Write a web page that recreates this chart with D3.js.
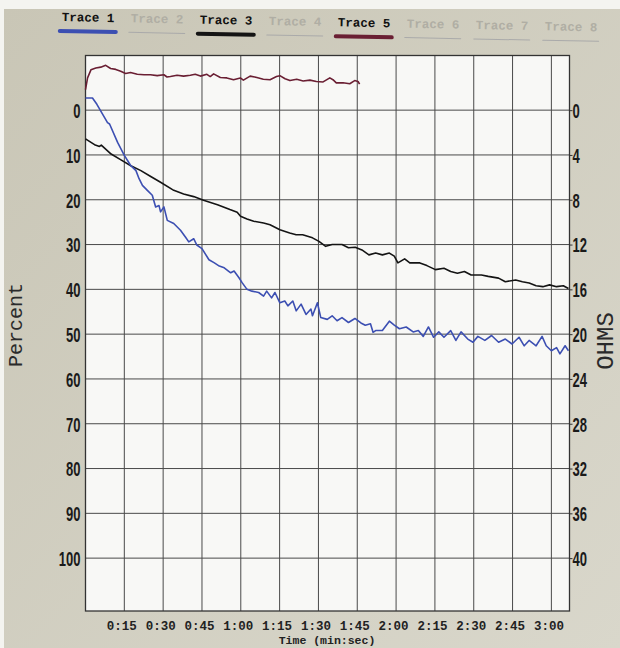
<!DOCTYPE html>
<html>
<head>
<meta charset="utf-8">
<script src="https://cdn.jsdelivr.net/npm/d3@7"></script>
<style>
  html, body { margin: 0; padding: 0; background: #ffffff; }
  svg { display: block; }
</style>
</head>
<body>
<svg id="chart" width="620" height="648"></svg>
<script>
// ---------------- data ----------------
const legendNames = ["Trace 1", "Trace 2", "Trace 3", "Trace 4", "Trace 5", "Trace 6", "Trace 7", "Trace 8"];
const legendActive = [true, false, true, false, true, false, false, false];
const legendColors = ["#3c4fb2", "#aaaaaa", "#141414", "#aaaaaa", "#6a1f33", "#aaaaaa", "#aaaaaa", "#aaaaaa"];

const timeTicks = [15, 30, 45, 60, 75, 90, 105, 120, 135, 150, 165, 180];
const percentTicks = [0, 10, 20, 30, 40, 50, 60, 70, 80, 90, 100];
const ohmTicks = [0, 4, 8, 12, 16, 20, 24, 28, 32, 36, 40];

// Trace 1 (blue) — percent vs seconds
const trace1Time = [0, 2.7, 4.4, 8.5, 9.3, 12.4, 15, 16.3, 17.5, 19.5, 20.7, 22, 23.9, 25.8, 27.1, 28.4, 29, 30.3, 31.6, 34.1, 36.7, 38.6, 39.9, 41.8, 43, 45, 47.7, 49.8, 51.7, 53.6, 56.1, 57.4, 59.3, 60.5, 62.4, 64.3, 66.9, 68.8, 70, 71.9, 73.2, 75.1, 77, 78.2, 80.1, 81.4, 83.3, 85.2, 87.1, 87.7, 89.6, 90.9, 93.4, 95.3, 97.2, 99.1, 101.6, 104.1, 106.4, 108.1, 110.1, 111.1, 112.1, 114.7, 117.4, 119.3, 121.3, 123.9, 126.6, 128.6, 130.5, 132.5, 134.5, 136.5, 138.5, 141.1, 143.1, 145.1, 147.7, 149.7, 151.6, 154.3, 156.9, 159.6, 162.2, 164.8, 167.5, 169.5, 171.4, 174.1, 176.4, 178, 180, 182, 183.3, 185.3, 186.6];
const trace1Pct = [-2.7, -2.7, -1.3, 2.8, 3.1, 7.2, 10.1, 11.3, 12.4, 13.5, 15.3, 16.8, 17.9, 19.0, 21.6, 21.3, 22.7, 21.6, 24.6, 25.3, 26.8, 28.3, 29.4, 28.7, 30.1, 30.9, 33.4, 34.1, 34.8, 35.2, 36.3, 35.9, 37.4, 38.5, 40.0, 40.4, 40.7, 41.5, 40.4, 41.9, 40.7, 43.0, 42.6, 43.7, 42.6, 44.8, 43.3, 45.6, 44.4, 45.9, 43.0, 46.3, 46.7, 45.9, 47.0, 46.3, 47.4, 46.5, 47.5, 48.0, 47.7, 49.6, 49.2, 49.2, 47.1, 48.0, 48.8, 48.4, 49.5, 49.2, 50.5, 48.4, 50.7, 49.5, 50.7, 49.2, 51.4, 49.5, 51.1, 51.8, 50.5, 51.4, 50.3, 51.8, 51.1, 52.2, 50.7, 52.6, 51.4, 52.6, 50.5, 52.6, 53.7, 53.0, 54.4, 52.6, 53.7];

// Trace 3 (black)
const trace3Time = [0, 3.5, 5.4, 6.1, 9.9, 13.7, 17.5, 21.4, 25.2, 29, 34.1, 37.9, 41.8, 45.6, 51, 55.8, 58.6, 59.9, 62.4, 65, 68.8, 71.3, 75.1, 78.9, 81.4, 83.9, 87.7, 90.2, 92.8, 95.3, 99.1, 101.6, 104.2, 106.8, 109.5, 112.1, 114.7, 117.4, 119.3, 120.7, 123.3, 125.3, 129.2, 131.9, 135.2, 138.5, 141.1, 143.7, 146.4, 149, 153, 155.6, 159.6, 162.2, 166.2, 168.8, 171.4, 174.1, 176.7, 179.3, 182, 184.6, 186.6];
const trace3Pct = [6.4, 7.7, 8.1, 7.8, 9.8, 11.1, 12.4, 13.5, 14.8, 16.1, 17.9, 18.7, 19.3, 20.1, 21.1, 22.2, 22.8, 23.7, 24.3, 24.8, 25.2, 25.6, 26.7, 27.4, 27.8, 27.8, 28.5, 29.3, 30.4, 30.0, 30.0, 30.7, 30.6, 31.2, 32.3, 31.9, 32.3, 31.9, 32.6, 34.1, 33.2, 34.1, 34.1, 34.7, 35.6, 35.3, 36.0, 36.4, 36.0, 36.8, 36.8, 37.1, 37.5, 38.3, 37.9, 38.3, 38.6, 39.2, 39.4, 39.0, 39.4, 39.2, 39.8];

// Trace 5 (maroon)
const trace5Time = [0, 0.8, 2.1, 4.0, 5.9, 7.8, 9.7, 11.7, 13.6, 15.5, 17.4, 20.0, 22.6, 25.1, 27.7, 30.3, 31.5, 32.8, 35.4, 37.9, 40.5, 42.4, 44.4, 46.9, 48.2, 49.5, 52.1, 54.6, 57.2, 59.8, 61.0, 63.6, 66.2, 68.7, 71.3, 73.8, 75.1, 77.1, 79.0, 81.6, 84.1, 86.7, 89.2, 91.8, 94.4, 95.6, 96.9, 99.5, 102.1, 104.0, 105.3, 105.9];
const trace5Pct = [-4.6, -7.2, -9.0, -9.4, -9.6, -10.0, -9.3, -9.1, -8.7, -8.2, -8.4, -8.0, -7.9, -7.9, -7.7, -7.9, -7.4, -7.5, -7.8, -7.6, -7.8, -8.0, -7.6, -8.0, -7.5, -8.1, -7.3, -7.2, -6.8, -7.2, -6.7, -7.6, -7.3, -6.9, -6.8, -7.5, -7.7, -7.0, -6.6, -6.9, -6.5, -6.7, -6.4, -6.3, -7.2, -6.8, -6.1, -6.1, -5.9, -6.6, -6.4, -5.8];

// ---------------- layout ----------------
const svg = d3.select("#chart");
const W = 620, H = 648;
const plot = { left: 85.5, right: 569.5, top: 55.5, bottom: 611 };

// paper background
svg.append("rect").attr("x", 0).attr("y", 0).attr("width", W).attr("height", H).attr("fill", "#f4f4f0");
const grad = svg.append("defs").append("linearGradient").attr("id", "paper")
  .attr("x1", "0").attr("y1", "0").attr("x2", "1").attr("y2", "1");
grad.append("stop").attr("offset", "0").attr("stop-color", "#c9c6b6");
grad.append("stop").attr("offset", "1").attr("stop-color", "#d9d7cb");
svg.append("rect").attr("x", 4).attr("y", 9).attr("width", W - 4).attr("height", H - 9).attr("fill", "url(#paper)");

// scales
const x = d3.scaleLinear().domain([0, 187]).range([plot.left, plot.right]);
const y = d3.scaleLinear().domain([-12.2, 111.8]).range([plot.top, plot.bottom]);
const yR = d3.scaleLinear().domain([-12.2 * 0.4, 111.8 * 0.4]).range([plot.top, plot.bottom]);

// plot area
svg.append("rect")
  .attr("x", plot.left).attr("y", plot.top)
  .attr("width", plot.right - plot.left).attr("height", plot.bottom - plot.top)
  .attr("fill", "#f8f8f6");

// grid
const grid = svg.append("g").attr("stroke", "#4a4a4a").attr("stroke-width", 1).attr("fill", "none");
grid.selectAll("line.v").data(timeTicks).join("line").attr("class", "v")
  .attr("x1", d => x(d)).attr("x2", d => x(d))
  .attr("y1", plot.top).attr("y2", plot.bottom);
grid.selectAll("line.h").data(percentTicks).join("line").attr("class", "h")
  .attr("x1", plot.left).attr("x2", plot.right)
  .attr("y1", d => y(d)).attr("y2", d => y(d));
svg.append("rect")
  .attr("x", plot.left).attr("y", plot.top)
  .attr("width", plot.right - plot.left).attr("height", plot.bottom - plot.top)
  .attr("fill", "none").attr("stroke", "#333").attr("stroke-width", 1.3);

// left axis (Percent)
const leftAxis = svg.append("g").attr("transform", `translate(${plot.left},0)`)
  .call(d3.axisLeft(y).tickValues(percentTicks).tickSize(0).tickPadding(0));
leftAxis.select(".domain").remove();
leftAxis.selectAll("text")
  .attr("font-family", "'Liberation Sans', Arial, sans-serif")
  .attr("font-size", 21).attr("font-weight", "bold").attr("fill", "#1a1a1a").attr("text-anchor", "end")
  .attr("x", 0).attr("dy", "0.35em")
  .attr("transform", `translate(-5,0) scale(0.62,1)`);

// right axis (OHMS)
const rightAxis = svg.append("g").attr("transform", `translate(${plot.right},0)`)
  .call(d3.axisRight(yR).tickValues(ohmTicks).tickSize(3).tickPadding(0));
rightAxis.select(".domain").remove();
rightAxis.selectAll("line").attr("stroke", "#333");
rightAxis.selectAll("text")
  .attr("font-family", "'Liberation Sans', Arial, sans-serif")
  .attr("font-size", 21).attr("font-weight", "bold").attr("fill", "#1a1a1a").attr("text-anchor", "start")
  .attr("x", 0).attr("dy", "0.35em")
  .attr("transform", `translate(3,0) scale(0.62,1)`);

// bottom axis (time)
const fmt = s => `${Math.floor(s / 60)}:${String(s % 60).padStart(2, "0")}`;
const bottomAxis = svg.append("g").attr("transform", `translate(0,${plot.bottom})`)
  .call(d3.axisBottom(x).tickValues(timeTicks).tickFormat(fmt).tickSize(0).tickPadding(0));
bottomAxis.select(".domain").remove();
bottomAxis.selectAll("text")
  .attr("font-family", "'Liberation Mono', 'Courier New', monospace")
  .attr("font-weight", "bold").attr("font-size", 12.5).attr("fill", "#222")
  .attr("y", 18.5).attr("dy", "0").attr("dx", "-3");

// axis titles
svg.append("text").attr("x", 327).attr("y", 644).attr("text-anchor", "middle")
  .attr("font-family", "'Liberation Mono', 'Courier New', monospace").attr("font-weight", "bold")
  .attr("font-size", 11.5).attr("fill", "#222").text("Time (min:sec)");
svg.append("text").attr("transform", "translate(22,325) rotate(-90)").attr("text-anchor", "middle")
  .attr("font-family", "'Liberation Mono', 'Courier New', monospace")
  .attr("font-size", 20).attr("fill", "#2a2a2a").text("Percent");
svg.append("text").attr("transform", "translate(613,341) rotate(-90)").attr("text-anchor", "middle")
  .attr("font-family", "'Liberation Mono', 'Courier New', monospace")
  .attr("font-size", 24).attr("fill", "#2a2a2a").text("OHMS");

// traces
const line = d3.line().x(d => x(d[0])).y(d => y(d[1]));
const series = [
  { t: trace5Time, p: trace5Pct, color: legendColors[4] },
  { t: trace3Time, p: trace3Pct, color: legendColors[2] },
  { t: trace1Time, p: trace1Pct, color: legendColors[0] }
];
series.forEach(s => {
  svg.append("path")
    .datum(s.t.map((t, i) => [t, s.p[i]]))
    .attr("d", line)
    .attr("fill", "none").attr("stroke", s.color)
    .attr("stroke-width", 1.6).attr("stroke-linejoin", "round");
});

// legend
const legend = svg.append("g").attr("transform", "rotate(1.1,60,21)");
const legX = d3.scalePoint().domain(legendNames).range([88, 571]);
const item = legend.selectAll("g").data(legendNames).join("g")
  .attr("transform", d => `translate(${legX(d)},0)`);
item.append("text")
  .attr("x", 0).attr("y", 21).attr("text-anchor", "middle")
  .attr("font-family", "'Liberation Mono', 'Courier New', monospace")
  .attr("font-weight", "bold").attr("font-size", 12.5)
  .attr("fill", (d, i) => legendActive[i] ? "#111" : "#b0aea4")
  .text(d => d);
item.append("line")
  .attr("x1", -28).attr("x2", 28).attr("y1", 31).attr("y2", 31)
  .attr("stroke", (d, i) => legendColors[i])
  .attr("stroke-width", (d, i) => legendActive[i] ? 4 : 1)
  .attr("stroke-linecap", "round");
</script>
</body>
</html>
